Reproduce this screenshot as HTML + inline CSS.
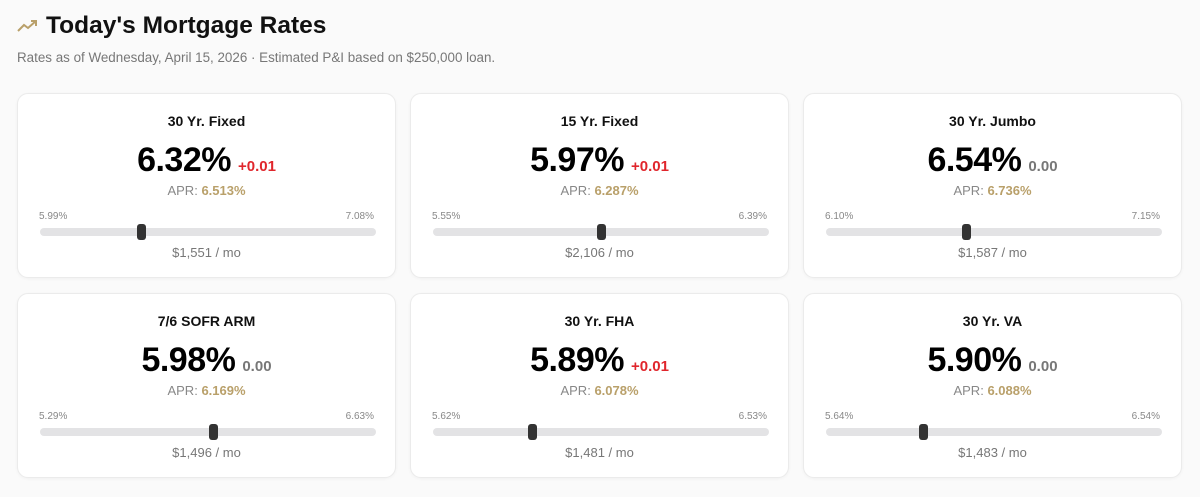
<!DOCTYPE html>
<html><head><meta charset="utf-8">
<style>
body{margin:0;width:1200px;height:497px;background:#fafafa;font-family:"Liberation Sans",sans-serif;position:relative;overflow:hidden}
.abs{position:absolute}
.card{position:absolute;width:379px;height:185px;background:#fff;border:1px solid #ebebeb;border-radius:11px;box-sizing:border-box;box-shadow:0 1px 3px rgba(0,0,0,0.04)}
.t{position:absolute;left:0;width:100%;text-align:center}
.name{top:19px;font-size:14px;font-weight:bold;color:#111}
.rate{top:47px;font-size:34px;font-weight:bold;color:#000;letter-spacing:-0.5px}
.chg{font-size:15px;font-weight:bold;letter-spacing:0;margin-left:7px}
.apr{top:89px;font-size:13px;color:#888}
.apr b{color:#b9a06a}
.lo,.hi{position:absolute;top:117px;font-size:10px;color:#888}
.lo{left:21px}.hi{right:21px}
.track{position:absolute;left:22px;width:336px;top:134px;height:8px;border-radius:4px;background:#e3e3e5}
.thumb{position:absolute;top:130px;width:9px;height:16px;border-radius:3px;background:#333;margin-left:-4.5px}
.pay{top:151px;font-size:13px;color:#777}
</style></head><body>
<svg class="abs" style="left:17px;top:18px" width="22" height="16"><polyline points="1,13 7,7 11,10 19,3" fill="none" stroke="#b9a06a" stroke-width="2"/><polyline points="14,3 19,3 19,8" fill="none" stroke="#b9a06a" stroke-width="2"/></svg>
<div class="abs" style="left:46px;top:12px;font-size:24.5px;font-weight:bold;color:#111">Today's Mortgage Rates</div>
<div class="abs" style="left:17px;top:50px;font-size:13.4px;color:#777">Rates as of Wednesday, April 15, 2026 · Estimated P&amp;I based on $250,000 loan.</div>
<div id="cards"></div>
<script>
const products=["30 Yr. Fixed","15 Yr. Fixed","30 Yr. Jumbo","7/6 SOFR ARM","30 Yr. FHA","30 Yr. VA"];
const rates=[6.32,5.97,6.54,5.98,5.89,5.90];
const changes=[0.01,0.01,0.00,0.00,0.01,0.00];
const aprs=["6.513","6.287","6.736","6.169","6.078","6.088"];
const lows=[5.99,5.55,6.10,5.29,5.62,5.64];
const highs=[7.08,6.39,7.15,6.63,6.53,6.54];
const payments=["$1,551","$2,106","$1,587","$1,496","$1,481","$1,483"];
const host=document.getElementById('cards');
products.forEach((p,i)=>{
  const c=document.createElement('div');
  c.className='card';
  
  
  c.style.left=(17+(i%3)*393)+'px';
  c.style.top=(93+Math.floor(i/3)*200)+'px';
  const ch=changes[i];
  const chTxt=ch>0?'+'+ch.toFixed(2):ch.toFixed(2);
  const chCol=ch>0?'#e0262c':'#777';
  const frac=(rates[i]-lows[i])/(highs[i]-lows[i]);
  c.innerHTML=`<div class="t name">${p}</div>
<div class="t rate">${rates[i].toFixed(2)}%<span class="chg" style="color:${chCol}">${chTxt}</span></div>
<div class="t apr">APR: <b>${aprs[i]}%</b></div>
<div class="lo">${lows[i].toFixed(2)}%</div><div class="hi">${highs[i].toFixed(2)}%</div>
<div class="track"></div><div class="thumb" style="left:${22+frac*336}px"></div>
<div class="t pay">${payments[i]} / mo</div>`;
  const th=c.querySelector('.thumb');
  
  
  const tr=c.querySelector('.track');
  
  
  host.appendChild(c);
});
</script>
</body></html>
